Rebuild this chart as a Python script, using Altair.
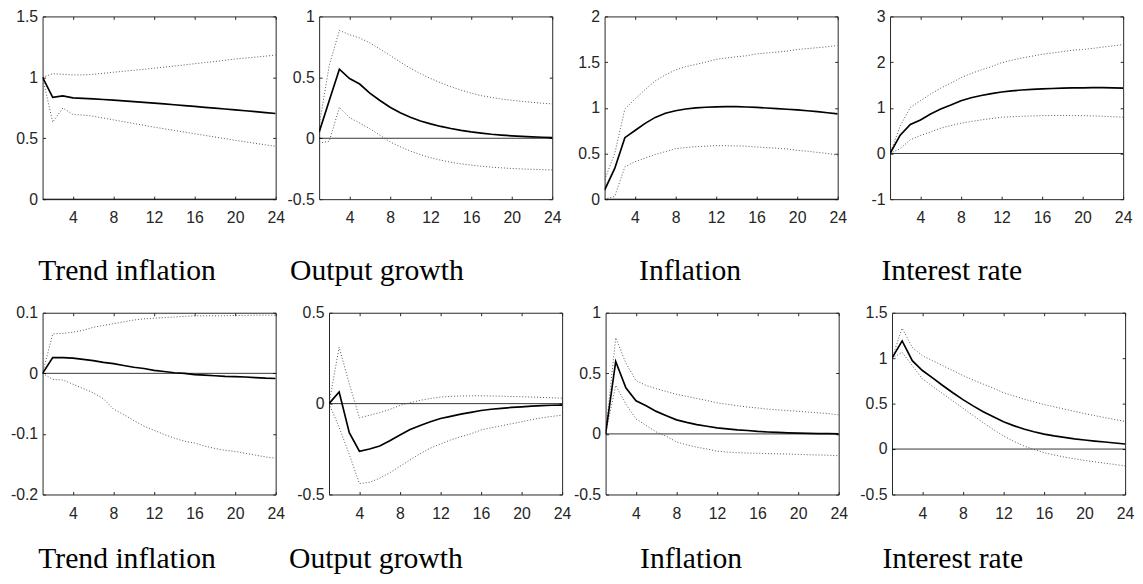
import altair as alt
import pandas as pd

horizon = list(range(1, 25))
x_tick_values = [4, 8, 12, 16, 20, 24]
panel_titles = ["Trend inflation", "Output growth", "Inflation", "Interest rate"]
zero_level = [0]

# ---- top row: shock 1 ----
med_trend_1 = [1.0, 0.835, 0.848, 0.832, 0.828, 0.823, 0.818, 0.813, 0.807, 0.801, 0.795, 0.789,
               0.782, 0.775, 0.768, 0.761, 0.754, 0.747, 0.740, 0.733, 0.726, 0.719, 0.711, 0.703]
up_trend_1 = [1.0, 1.03, 1.025, 1.02, 1.02, 1.025, 1.033, 1.042, 1.05, 1.058, 1.066, 1.075,
              1.084, 1.093, 1.102, 1.112, 1.121, 1.13, 1.14, 1.15, 1.158, 1.166, 1.174, 1.183]
lo_trend_1 = [1.0, 0.632, 0.748, 0.695, 0.69, 0.681, 0.666, 0.651, 0.636, 0.621, 0.606, 0.591,
              0.578, 0.564, 0.551, 0.537, 0.524, 0.51, 0.497, 0.483, 0.471, 0.458, 0.446, 0.434]

med_output_1 = [0.05, 0.31, 0.567, 0.49, 0.445, 0.37, 0.31, 0.255, 0.21, 0.172, 0.142, 0.118,
                0.097, 0.08, 0.065, 0.052, 0.042, 0.033, 0.026, 0.02, 0.015, 0.011, 0.008, 0.005]
up_output_1 = [0.1, 0.6, 0.885, 0.85, 0.823, 0.783, 0.732, 0.68, 0.625, 0.575, 0.53, 0.49,
               0.455, 0.423, 0.395, 0.37, 0.35, 0.335, 0.322, 0.312, 0.303, 0.295, 0.288, 0.282]
lo_output_1 = [-0.04, -0.025, 0.254, 0.17, 0.125, 0.078, 0.025, -0.03, -0.07, -0.105, -0.135, -0.16,
               -0.18, -0.197, -0.21, -0.22, -0.23, -0.237, -0.243, -0.248, -0.252, -0.255, -0.258, -0.26]

med_infl_1 = [0.1, 0.336, 0.673, 0.752, 0.83, 0.895, 0.94, 0.968, 0.987, 0.999, 1.006, 1.011,
              1.013, 1.012, 1.009, 1.004, 0.998, 0.991, 0.984, 0.977, 0.968, 0.958, 0.946, 0.933]
up_infl_1 = [0.21, 0.5, 0.987, 1.096, 1.2, 1.295, 1.36, 1.414, 1.45, 1.475, 1.5, 1.53,
             1.545, 1.558, 1.57, 1.59, 1.6, 1.61, 1.62, 1.638, 1.648, 1.658, 1.668, 1.682]
lo_infl_1 = [0.0, 0.03, 0.354, 0.41, 0.45, 0.49, 0.52, 0.553, 0.565, 0.575, 0.58, 0.586,
             0.585, 0.583, 0.58, 0.571, 0.565, 0.557, 0.549, 0.535, 0.525, 0.512, 0.5, 0.481]

med_rate_1 = [0.0, 0.4, 0.635, 0.735, 0.865, 0.974, 1.06, 1.155, 1.22, 1.27, 1.31, 1.345,
              1.37, 1.39, 1.405, 1.415, 1.423, 1.43, 1.435, 1.438, 1.44, 1.44, 1.437, 1.432]
up_rate_1 = [0.0, 0.6, 1.01, 1.155, 1.3, 1.43, 1.54, 1.66, 1.75, 1.83, 1.9, 1.987,
             2.04, 2.09, 2.13, 2.17, 2.2, 2.23, 2.26, 2.276, 2.3, 2.33, 2.355, 2.385]
lo_rate_1 = [0.0, 0.106, 0.3, 0.395, 0.47, 0.555, 0.61, 0.663, 0.7, 0.735, 0.765, 0.793,
             0.805, 0.815, 0.822, 0.828, 0.832, 0.832, 0.83, 0.828, 0.823, 0.815, 0.805, 0.793]

# ---- bottom row: shock 2 ----
med_trend_2 = [0.0, 0.026, 0.026, 0.025, 0.023, 0.021, 0.018, 0.016, 0.013, 0.01, 0.008, 0.005,
               0.003, 0.001, 0.0, -0.002, -0.003, -0.004, -0.005, -0.0055, -0.006, -0.007, -0.008, -0.0085]
up_trend_2 = [0.0, 0.065, 0.066, 0.068, 0.071, 0.076, 0.079, 0.082, 0.085, 0.088, 0.09, 0.091,
              0.092, 0.093, 0.094, 0.095, 0.095, 0.095, 0.095, 0.0955, 0.0955, 0.096, 0.096, 0.096]
lo_trend_2 = [0.0, -0.01, -0.011, -0.018, -0.025, -0.032, -0.042, -0.059, -0.068, -0.078, -0.087, -0.094,
              -0.101, -0.107, -0.112, -0.115, -0.12, -0.124, -0.127, -0.129, -0.132, -0.135, -0.138, -0.14]

med_output_2 = [0.0, 0.064, -0.16, -0.262, -0.25, -0.233, -0.204, -0.173, -0.142, -0.12, -0.1, -0.082,
                -0.07, -0.058, -0.048, -0.038, -0.031, -0.026, -0.021, -0.018, -0.014, -0.011, -0.009, -0.008]
up_output_2 = [0.0, 0.31, 0.11, -0.078, -0.064, -0.05, -0.032, -0.01, 0.005, 0.018, 0.028, 0.036,
               0.04, 0.042, 0.043, 0.043, 0.042, 0.041, 0.039, 0.038, 0.036, 0.034, 0.032, 0.03]
lo_output_2 = [0.0, -0.13, -0.28, -0.44, -0.433, -0.41, -0.38, -0.345, -0.31, -0.275, -0.245, -0.222,
               -0.2, -0.182, -0.166, -0.145, -0.133, -0.122, -0.111, -0.1, -0.088, -0.078, -0.07, -0.064]

med_infl_2 = [0.0, 0.598, 0.38, 0.273, 0.232, 0.186, 0.15, 0.116, 0.095, 0.077, 0.063, 0.05,
              0.042, 0.034, 0.028, 0.021, 0.016, 0.012, 0.009, 0.007, 0.005, 0.003, 0.002, 0.001]
up_infl_2 = [0.0, 0.794, 0.585, 0.44, 0.4, 0.373, 0.35, 0.327, 0.31, 0.292, 0.276, 0.257,
             0.245, 0.233, 0.222, 0.214, 0.205, 0.198, 0.192, 0.187, 0.18, 0.174, 0.168, 0.157]
lo_infl_2 = [0.0, 0.4, 0.246, 0.124, 0.07, 0.016, -0.02, -0.066, -0.09, -0.11, -0.124, -0.142,
             -0.15, -0.155, -0.158, -0.16, -0.162, -0.164, -0.166, -0.169, -0.172, -0.174, -0.176, -0.18]

med_rate_2 = [1.0, 1.19, 0.973, 0.864, 0.784, 0.7, 0.62, 0.544, 0.475, 0.41, 0.355, 0.3,
              0.258, 0.22, 0.19, 0.165, 0.145, 0.128, 0.112, 0.1, 0.088, 0.078, 0.067, 0.056]
up_rate_2 = [1.0, 1.33, 1.118, 1.027, 0.973, 0.918, 0.865, 0.81, 0.76, 0.715, 0.67, 0.62,
             0.585, 0.55, 0.52, 0.49, 0.465, 0.44, 0.415, 0.39, 0.368, 0.346, 0.325, 0.305]
lo_rate_2 = [1.0, 1.064, 0.918, 0.773, 0.69, 0.61, 0.53, 0.45, 0.37, 0.29, 0.215, 0.145,
             0.085, 0.035, -0.005, -0.04, -0.065, -0.088, -0.108, -0.125, -0.14, -0.155, -0.17, -0.185]

medians = [med_trend_1, med_output_1, med_infl_1, med_rate_1,
           med_trend_2, med_output_2, med_infl_2, med_rate_2]
uppers = [up_trend_1, up_output_1, up_infl_1, up_rate_1,
          up_trend_2, up_output_2, up_infl_2, up_rate_2]
lowers = [lo_trend_1, lo_output_1, lo_infl_1, lo_rate_1,
          lo_trend_2, lo_output_2, lo_infl_2, lo_rate_2]

y_domains = [[0, 1.5], [-0.5, 1], [0, 2], [-1, 3],
             [-0.2, 0.1], [-0.5, 0.5], [-0.5, 1], [-0.5, 1.5]]
y_tick_values = [[0, 0.5, 1, 1.5], [-0.5, 0, 0.5, 1], [0, 0.5, 1, 1.5, 2], [-1, 0, 1, 2, 3],
                 [-0.2, -0.1, 0, 0.1], [-0.5, 0, 0.5], [-0.5, 0, 0.5, 1], [-0.5, 0, 0.5, 1, 1.5]]

# layout (pixels)
PANEL_W = 236
PANEL_H = [185, 184]
Y_EXTENT = [37, 35.1, 45.1, 45.1, 37, 46.1, 34.1, 46.1]
TITLE_X = [85, 58, 86, 62, 85, 47, 86, 61]
TITLE_Y = [84, 77]

SANS = "Liberation Sans"
SERIF = "Liberation Serif"
INK = "#262626"
BAND = "#555555"
LABEL_EXPR = "'' + datum.value"


def panel(k):
    row = k // 4
    df = pd.DataFrame({"h": horizon, "lo": lowers[k], "med": medians[k], "up": uppers[k]})
    zdf = pd.DataFrame({"z": zero_level})
    xs = alt.Scale(domain=[1, 24], nice=False, zero=False)
    ys = alt.Scale(domain=y_domains[k], nice=False, zero=False)

    ax_bottom = alt.Axis(
        orient="bottom", values=x_tick_values, title=panel_titles[k % 4],
        titleFont=SERIF, titleFontSize=30, titleFontWeight="normal", titleColor="black",
        titleX=TITLE_X[k], titleY=TITLE_Y[row], titleAlign="center", titleBaseline="alphabetic",
        tickSize=3, offset=-3, domain=False, labelPadding=11, labelFlush=False,
        labelFont=SANS, labelFontSize=16, labelColor=INK, tickColor=INK, grid=False,
        labelOverlap=False,
    )
    ax_left = alt.Axis(
        orient="left", values=y_tick_values[k], title=None, tickSize=3, offset=-3,
        domain=False, labelPadding=5, labelFont=SANS, labelFontSize=16, labelColor=INK,
        tickColor=INK, grid=False, minExtent=Y_EXTENT[k], maxExtent=Y_EXTENT[k],
        labelExpr=LABEL_EXPR, labelOverlap=False,
    )
    ax_top = alt.Axis(
        orient="top", values=x_tick_values, title=None, labels=False, tickSize=3, offset=-3,
        domain=False, tickColor=INK, grid=False, minExtent=0, maxExtent=0,
    )
    ax_right = alt.Axis(
        orient="right", values=y_tick_values[k], title=None, labels=False, tickSize=3, offset=-3,
        domain=False, tickColor=INK, grid=False, minExtent=0, maxExtent=0,
    )

    zero = alt.Chart(zdf).mark_rule(color="black", strokeWidth=0.8).encode(
        y=alt.Y("z:Q", scale=ys, axis=None)
    )
    upper = alt.Chart(df).mark_line(color=BAND, strokeWidth=1, strokeDash=[1, 2], clip=True).encode(
        x=alt.X("h:Q", scale=xs, axis=ax_bottom),
        y=alt.Y("up:Q", scale=ys, axis=ax_left),
    )
    lower = alt.Chart(df).mark_line(color=BAND, strokeWidth=1, strokeDash=[1, 2], clip=True).encode(
        x=alt.X("h:Q", scale=xs, axis=None),
        y=alt.Y("lo:Q", scale=ys, axis=None),
    )
    median = alt.Chart(df).mark_line(color="black", strokeWidth=1.7, clip=True).encode(
        x=alt.X("h:Q", scale=xs, axis=ax_top),
        y=alt.Y("med:Q", scale=ys, axis=ax_right),
    )
    return alt.layer(zero, upper, lower, median).resolve_axis(
        x="independent", y="independent"
    ).properties(width=PANEL_W, height=PANEL_H[row])


top = alt.hconcat(*[panel(k) for k in range(4)], spacing=0)
bottom = alt.hconcat(*[panel(k) for k in range(4, 8)], spacing=0)
chart = alt.vconcat(top, bottom, spacing=18).properties(
    padding={"left": 0, "top": -4, "right": 0, "bottom": 0}
).configure_view(stroke=INK, strokeWidth=1)

chart.save("out.html", embed_options={"renderer": "svg", "actions": False})
